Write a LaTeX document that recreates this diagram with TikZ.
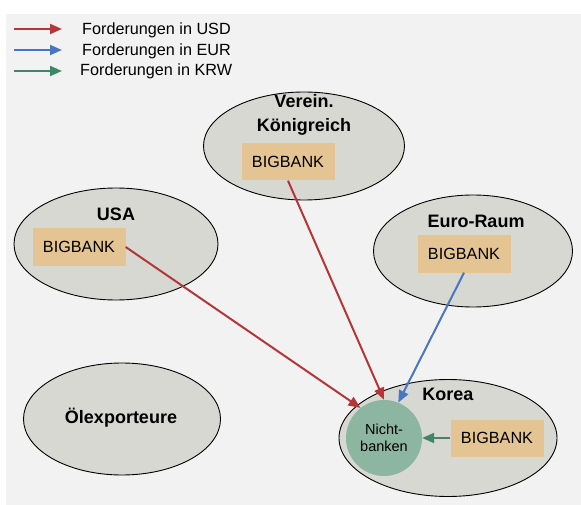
\documentclass[tikz,border=0pt]{standalone}
\usepackage{fontspec}
\setmainfont{Liberation Sans}
\usetikzlibrary{shapes.geometric,arrows.meta}
\definecolor{bgc}{RGB}{242,242,242}
\definecolor{ellc}{RGB}{216,216,211}
\definecolor{boxc}{RGB}{228,196,146}
\definecolor{nbc}{RGB}{141,182,160}
\definecolor{usdc}{RGB}{180,54,56}
\definecolor{eurc}{RGB}{72,118,192}
\definecolor{krwc}{RGB}{62,134,104}
\tikzset{
  region/.style={ellipse, draw=black, line width=0.9pt, fill=ellc, inner sep=0pt},
  title/.style={font=\fontsize{18}{24}\selectfont\bfseries, align=center, inner sep=0pt},
  bank/.style={rectangle, fill=boxc, minimum width=93pt, minimum height=37pt, inner sep=0pt, font=\fontsize{16.2}{18}\selectfont},
  flow/.style={line width=2pt, -{Triangle[length=12pt,width=10pt]}},
  legtext/.style={anchor=west, font=\fontsize{16.2}{18}\selectfont, inner sep=0pt}
}
\begin{document}
\begin{tikzpicture}[x=1pt,y=-1pt]
\useasboundingbox (0,0) rectangle (581,505);
\fill[bgc] (6,14) rectangle (581,505);
% legend
\coordinate (l1a) at (14,29); \coordinate (l1b) at (62,29);
\coordinate (l2a) at (14,50); \coordinate (l2b) at (62,50);
\coordinate (l3a) at (14,71); \coordinate (l3b) at (62,71);
\draw[flow, usdc] (l1a) -- (l1b);
\draw[flow, eurc] (l2a) -- (l2b);
\draw[flow, krwc] (l3a) -- (l3b);
\node[legtext] (t1) at (82,30) {Forderungen in USD};
\node[legtext] (t2) at (82,51) {Forderungen in EUR};
\node[legtext] (t3) at (80,71) {Forderungen in KRW};
% regions
\node[region, minimum width=201pt, minimum height=108pt] (uk) at (304,146) {};
\node[region, minimum width=204pt, minimum height=112pt] (usa) at (116,244) {};
\node[region, minimum width=199pt, minimum height=112pt] (eu) at (473,251) {};
\node[region, minimum width=197pt, minimum height=112pt] (oil) at (122,419) {};
\node[region, minimum width=218pt, minimum height=117pt] (kr) at (448,438) {};
% titles
\node[title] (ukt) at (304,115) {Verein.\\Königreich};
\node[title] (usat) at (116,214) {USA};
\node[title] (eut) at (476,221) {Euro-Raum};
\node[title] (oilt) at (121,418) {Ölexporteure};
\node[title] (krt) at (448,394) {Korea};
% banks
\node[bank] (ukb) at (288,162) {BIGBANK};
\node[bank] (usab) at (79,247) {BIGBANK};
\node[bank] (eub) at (464,254) {BIGBANK};
\node[bank] (krb) at (497,438) {BIGBANK};
\node[circle, fill=nbc, minimum size=76pt, inner sep=0pt, align=center, font=\fontsize{14.5}{17}\selectfont] (nb) at (384,438) {Nicht-\\banken};
% flows
\draw[flow, usdc] (ukb.south) -- (nb.north);
\draw[flow, usdc] (usab.east) -- (nb.128);
\draw[flow, eurc] (eub.south) -- (nb.68);
\draw[flow, krwc] (krb.west) -- (nb.east);
\end{tikzpicture}
\end{document}
